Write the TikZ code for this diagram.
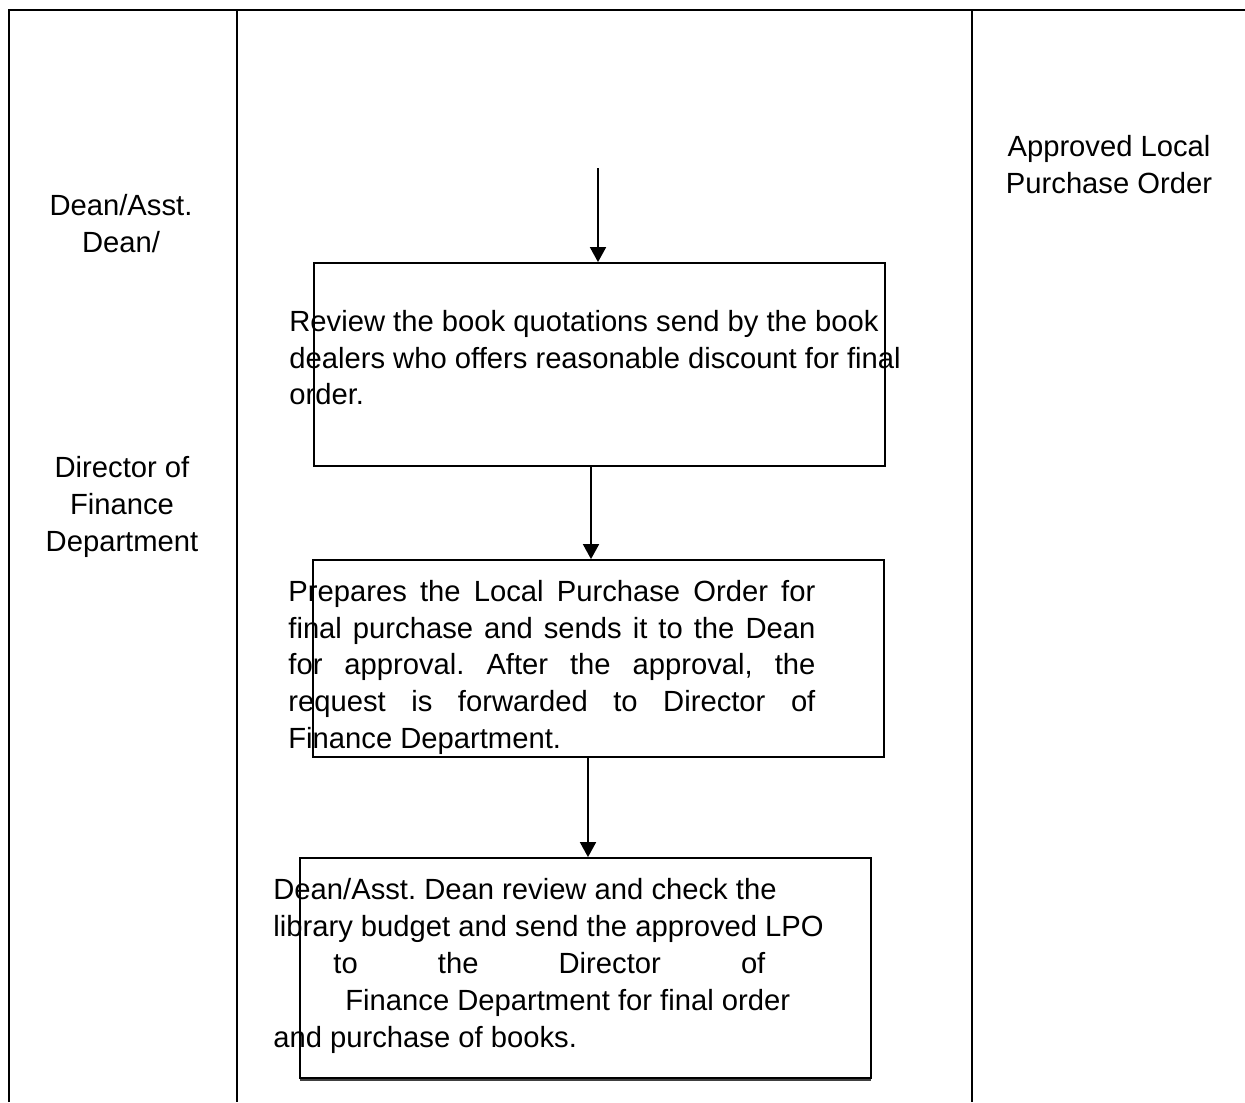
\documentclass[tikz,border=0pt]{standalone}
\usepackage{fontspec}
\setmainfont{Liberation Sans}
\usetikzlibrary{arrows.meta}
\frenchspacing

\begin{document}
\begin{tikzpicture}
      [
        x = 0.5pt, y = -0.5pt,
        every node/.style = {inner sep = 0pt, font = \fontsize{14.6}{18.5}\selectfont},
        frame/.style = {line width = 1.4pt},
        stepbox/.style = {draw, line width = 0.9pt, minimum width = 285.5pt},
        flow/.style = {line width = 0.9pt, -{Triangle[length = 7.5pt, width = 8pt]}},
        line/.style = {anchor = base west},
      ]

      \useasboundingbox (0,0) rectangle (1245,1102);

      % table frame
      \draw[frame] (9,1102) -- (9,10) -- (1245,10);
      \draw[frame] (237,10) -- (237,1102);
      \draw[frame] (972,10) -- (972,1102);

      % lane labels
      \node[align=center] (dean) at (121,224) {Dean/Asst.\\Dean/};
      \node[align=center] (finance) at (122,507) {Director of\\Finance\\Department};
      \node[align=center] (lpo) at (1109,165) {Approved Local\\Purchase Order};

      % boxes
      \node[stepbox, minimum height = 101.5pt] (review) at (599.5,364.5) {};
      \node[stepbox, minimum height = 98.5pt] (prepare) at (598.5,658.5) {};
      \node[stepbox, minimum height = 110pt] (check) at (585.5,968) {};
      \draw[line width = 1pt, black!75] (check.south west) ++(1,1) -- ++(571,0);

      % box texts
      \node[line] (r1) at (289,331) {Review the book quotations send by the book};
      \node[line] (r2) at (289,368) {dealers who offers reasonable discount for final};
      \node[line] (r3) at (289,404) {order.};

      \node[line] (p1) at (288,601) {\makebox[263.5pt][s]{Prepares the Local Purchase Order for}};
      \node[line] (p2) at (288,638) {\makebox[263.5pt][s]{final purchase and sends it to the Dean}};
      \node[line] (p3) at (288,674) {\makebox[263.5pt][s]{for approval. After the approval, the}};
      \node[line] (p4) at (288,711) {\makebox[263.5pt][s]{request is forwarded to Director of}};
      \node[line] (p5) at (288,748) {Finance Department.};

      \node[line] (c1) at (273,899) {Dean/Asst. Dean review and check the};
      \node[line] (c2) at (273,936) {library budget and send the approved LPO};
      \node[line] (c3) at (333,973) {\makebox[216pt][s]{to the Director of}};
      \node[line] (c4) at (345,1010) {Finance Department for final order};
      \node[line] (c5) at (273,1047) {and purchase of books.};

      % connectors
      \coordinate (start) at (598,168);
      \coordinate (a2) at (591,0);
      \coordinate (a3) at (588,0);
      \draw[flow] (start) -- (review.north -| start);
      \draw[flow] (review.south -| a2) -- (prepare.north -| a2);
      \draw[flow] (prepare.south -| a3) -- (check.north -| a3);

    \end{tikzpicture}
\end{document}
